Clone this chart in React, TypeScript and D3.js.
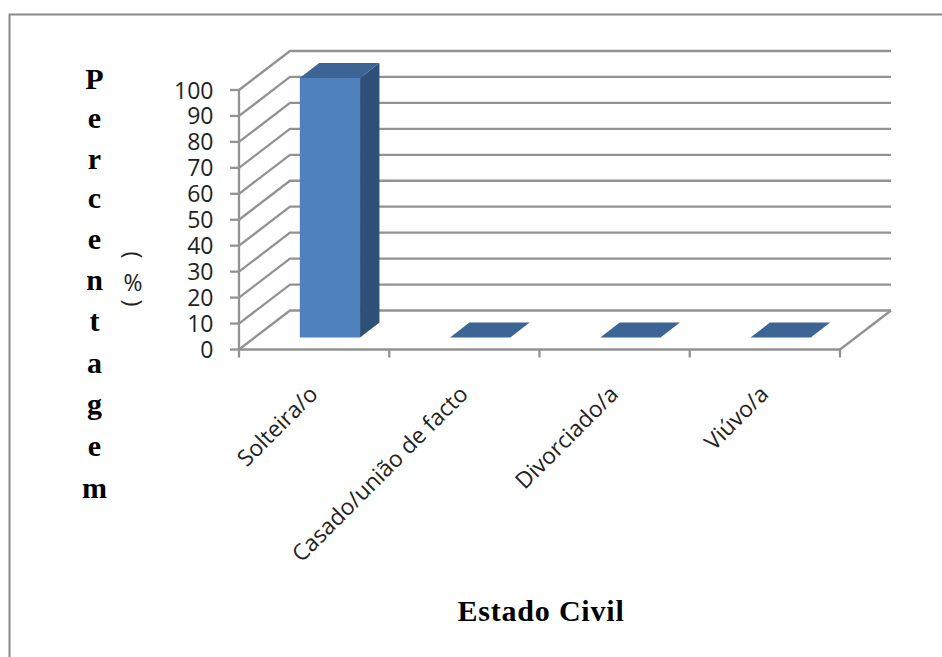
import React from "react";
import * as d3 from "d3";

const categories = ["Solteira/o", "Casado/união de facto", "Divorciado/a", "Viúvo/a"];
const percentages = [100, 0, 0, 0];
const yTicks = [0, 10, 20, 30, 40, 50, 60, 70, 80, 90, 100];
const yTitleLetters = ["P", "e", "r", "c", "e", "n", "t", "a", "g", "e", "m"];
const yTitleBaselines = [89, 128, 169, 208, 249, 290, 331, 373, 414, 456, 498];

const GRID = "#929292";
const FRONT = "#4f81bd";
const TOP = "#3c6494";
const SIDE = "#2f5078";
const INK = "#222222";
const SANS = "'Open Sans', sans-serif";
const SERIF = "'Liberation Serif', serif";

const x = d3.scaleBand<string>().domain(categories).range([239, 840]);
const y = d3.scaleLinear().domain([0, 100]).range([349.5, 90]);

// Oblique projection: depth 0 is the front plane, depth 1 the back wall.
const DEPTH_X = 51;
const DEPTH_Y = 39;
const project = (px: number, value: number, depth: number): [number, number] => [
  px + depth * DEPTH_X,
  y(value) - depth * DEPTH_Y,
];
const poly = (pts: [number, number][]) => d3.line()(pts) + "Z";

const BAR_NEAR = 0.31;
const BAR_FAR = 0.69;
const BAR_INSET = 45;
const LINE_WIDTH = 2.3;

export default function App() {
  const left = x.range()[0];
  const right = x.range()[1];
  const tickXs = [...categories.map((c) => x(c) as number), right];
  return (
    <svg
      width={942}
      height={657}
      style={{ position: "absolute", left: 0, top: 0, background: "#fff" }}
    >
      <path d="M9.5 657V14.5H942" fill="none" stroke="#8a8a8a" strokeWidth={2} />

      {/* back wall gridlines with their slanted returns on the side wall */}
      {yTicks.map((t) => {
        const a = project(left, t, 0);
        const b = project(left, t, 1);
        const c = project(right, t, 1);
        return (
          <path
            key={t}
            d={d3.line()([a, b, c]) as string}
            fill="none"
            stroke={GRID}
            strokeWidth={LINE_WIDTH}
          />
        );
      })}

      {/* floor edge on the right */}
      <path
        d={d3.line()([project(right, 0, 0), project(right, 0, 1)]) as string}
        fill="none"
        stroke={GRID}
        strokeWidth={LINE_WIDTH}
      />

      {/* axes */}
      <line x1={left} y1={y(0)} x2={left} y2={y(100)} stroke={GRID} strokeWidth={LINE_WIDTH} />
      <line x1={left} y1={y(0)} x2={right} y2={y(0)} stroke={GRID} strokeWidth={LINE_WIDTH} />
      {yTicks.map((t) => (
        <line key={t} x1={left - 9} x2={left} y1={y(t)} y2={y(t)} stroke={GRID} strokeWidth={LINE_WIDTH} />
      ))}
      {tickXs.map((tx) => (
        <line key={tx} x1={tx} x2={tx} y1={y(0)} y2={y(0) + 8} stroke={GRID} strokeWidth={LINE_WIDTH} />
      ))}

      {/* columns */}
      {categories.map((c, i) => {
        const x0 = (x(c) as number) + BAR_INSET;
        const x1 = x0 + x.bandwidth() - 2 * BAR_INSET;
        const v = percentages[i];
        return (
          <g key={c}>
            <path
              d={poly([project(x1, 0, BAR_NEAR), project(x1, 0, BAR_FAR), project(x1, v, BAR_FAR), project(x1, v, BAR_NEAR)])}
              fill={SIDE}
            />
            <path
              d={poly([project(x0, 0, BAR_NEAR), project(x1, 0, BAR_NEAR), project(x1, v, BAR_NEAR), project(x0, v, BAR_NEAR)])}
              fill={FRONT}
            />
            <path
              d={poly([project(x0, v, BAR_NEAR), project(x1, v, BAR_NEAR), project(x1, v, BAR_FAR), project(x0, v, BAR_FAR)])}
              fill={TOP}
            />
          </g>
        );
      })}

      {/* value axis labels */}
      {yTicks.map((t) => (
        <text
          key={t}
          x={213.5}
          y={y(t) + 8.5}
          textAnchor="end"
          fontFamily={SANS}
          fontSize={23}
          fill={INK}
        >
          {t}
        </text>
      ))}

      {/* category labels, slanted up to the right */}
      {categories.map((c) => {
        const ax = (x(c) as number) + x.bandwidth() / 2 + 5;
        const ay = y(0) + 46;
        return (
          <text
            key={c}
            transform={`translate(${ax},${ay}) rotate(-45)`}
            textAnchor="end"
            fontFamily={SANS}
            fontSize={22.7}
            fill={INK}
          >
            {c}
          </text>
        );
      })}

      {/* stacked axis title */}
      {yTitleLetters.map((l, i) => (
        <text
          key={i}
          x={94.5}
          y={yTitleBaselines[i]}
          textAnchor="middle"
          fontFamily={SERIF}
          fontWeight="bold"
          fontSize={30}
          fill="#000"
        >
          {l}
        </text>
      ))}

      {/* unit note: turned brackets around an upright percent sign */}
      <text
        transform="translate(138,303) rotate(-90)"
        textAnchor="middle"
        fontFamily={SANS}
        fontSize={24}
        fill={INK}
      >
        (
      </text>
      <text
        transform="translate(138,255) rotate(-90)"
        textAnchor="middle"
        fontFamily={SANS}
        fontSize={24}
        fill={INK}
      >
        )
      </text>
      <text x={133} y={291} textAnchor="middle" fontFamily={SANS} fontSize={23} fill={INK}>
        %
      </text>

      <text
        x={541}
        y={621}
        textAnchor="middle"
        fontFamily={SERIF}
        fontWeight="bold"
        fontSize={30}
        letterSpacing={0.8}
        fill="#000"
      >
        Estado Civil
      </text>
    </svg>
  );
}
